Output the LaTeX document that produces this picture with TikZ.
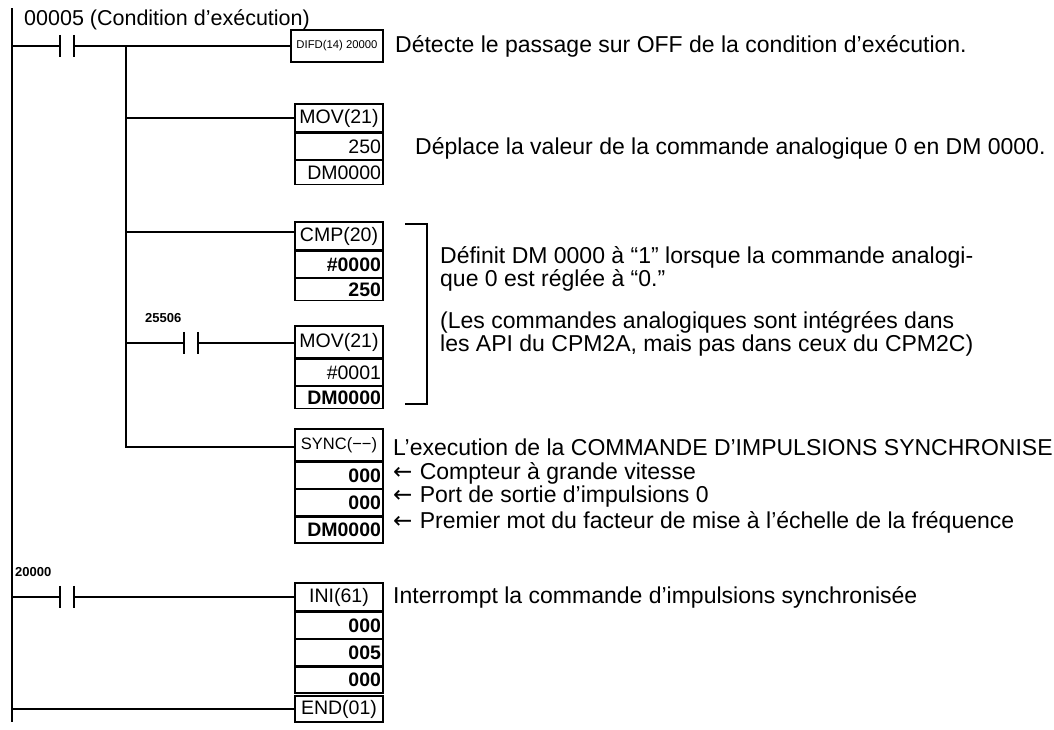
\documentclass[tikz,border=0pt]{standalone}
\usepackage{fontspec}
\setmainfont{Liberation Sans}
\usetikzlibrary{positioning}

\begin{document}
\begin{tikzpicture}[x=1pt, y=-1pt,
        instr/.style={draw, line width=1.3pt, minimum width=88pt, minimum height=28pt, inner sep=0pt, font=\fontsize{19.5}{21}\selectfont},
        oprnd/.style={instr, minimum height=26pt, text width=84pt, align=right},
        contact/.style={minimum width=14pt, minimum height=22pt, inner sep=0pt},
        note/.style={anchor=west, inner sep=0pt, font=\fontsize{23}{23.5}\selectfont},
        tag/.style={anchor=west, inner sep=0pt, font=\bfseries\fontsize{13}{14}\selectfont},
        wire/.style={line width=1.1pt}
    ]
        \useasboundingbox (0,0) rectangle (1054,729);

        % Rail
        \coordinate (railtop) at (12,8);
        \coordinate (railbot) at (12,722);
        \draw[wire] (railtop) -- (railbot);

        % Rung 1: 00005
        \node[note, font=\fontsize{21.5}{22}\selectfont] (lbl1) at (24,20) {00005 (Condition d’exécution)};
        \node[contact] (c00005) at (67,46) {};
        \node[instr, minimum height=32pt, minimum width=92pt, font=\fontsize{11.3}{14}\selectfont] (difd) at (337,46) {DIFD(14) 20000};
        \coordinate (r1) at (12,46);
        \coordinate (br) at (126,46);
        \draw[wire] (r1) -- (c00005.west) (c00005.east) -- (difd.west);
        \node[note] at (395,46) {Détecte le passage sur OFF de la condition d’exécution.};

        % MOV 250
        \node[instr] (mov1) at (339,118) {MOV(21)};
        \node[oprnd, below=0pt of mov1] (mov1a) {250\hspace{8pt}};
        \node[oprnd, below=0pt of mov1a, minimum height=24pt] (mov1b) {DM0000};
        \coordinate (br1) at (126,118);
        \draw[wire] (br1) -- (mov1.west);
        \node[note] at (415,148) {Déplace la valeur de la commande analogique 0 en DM 0000.};

        % CMP
        \node[instr] (cmp) at (339,236) {CMP(20)};
        \node[oprnd, below=0pt of cmp] (cmpa) {\textbf{\#0000}\hspace{3pt}};
        \node[oprnd, below=0pt of cmpa, minimum height=22pt] (cmpb) {\textbf{250}\hspace{3pt}};
        \coordinate (br2) at (126,232);
        \draw[wire] (br2) -- (cmp.west |- br2);

        % MOV #0001
        \node[instr, minimum height=32pt] (mov2) at (339,342) {MOV(21)};
        \node[oprnd, below=0pt of mov2] (mov2a) {\#0001\hspace{12pt}};
        \node[oprnd, below=0pt of mov2a, minimum height=22pt] (mov2b) {\textbf{DM0000}};
        \node[tag] (lbl25506) at (145,318) {25506};
        \node[contact] (c25506) at (191,343) {};
        \coordinate (br3) at (126,343);
        \draw[wire] (br3) -- (c25506.west) (c25506.east) -- (mov2.west |- br3);

        % Bracket
        \coordinate (bk1) at (405,224);
        \coordinate (bk2) at (427,224);
        \coordinate (bk3) at (427,404);
        \coordinate (bk4) at (405,404);
        \draw[wire] (bk1) -- (bk2) -- (bk3) -- (bk4);
        \node[note, align=left] at (440,269) {Définit DM 0000 à “1” lorsque la commande analogi-\\que 0 est réglée à “0.”};
        \node[note, align=left] at (440,334) {(Les commandes analogiques sont intégrées dans\\les API du CPM2A, mais pas dans ceux du CPM2C)};

        % SYNC
        \node[instr, minimum height=32pt, font=\fontsize{16.5}{18}\selectfont] (sync) at (339,445) {SYNC(−−)};
        \node[oprnd, below=0pt of sync] (synca) {\textbf{000}};
        \node[oprnd, below=0pt of synca] (syncb) {\textbf{000}};
        \node[oprnd, below=0pt of syncb] (syncc) {\textbf{DM0000}};
        \coordinate (br4) at (126,447);
        \draw[wire] (br) -- (br4) -- (sync.west |- br4);
        \node[note] at (393,447) {L’execution de la COMMANDE D’IMPULSIONS SYNCHRONISEE};
        \node[note] at (393,473) {\fontspec{DejaVu Sans}←\ \fontspec{Liberation Sans}Compteur à grande vitesse};
        \node[note] at (393,497) {\fontspec{DejaVu Sans}←\ \fontspec{Liberation Sans}Port de sortie d’impulsions 0};
        \node[note] at (393,522) {\fontspec{DejaVu Sans}←\ \fontspec{Liberation Sans}Premier mot du facteur de mise à l’échelle de la fréquence};

        % Rung 2: 20000
        \node[tag] (lbl20000) at (15,572) {20000};
        \node[contact] (c20000) at (67,597) {};
        \node[instr] (ini) at (339,597) {INI(61)};
        \node[oprnd, below=0pt of ini] (inia) {\textbf{000}};
        \node[oprnd, below=0pt of inia] (inib) {\textbf{005}};
        \node[oprnd, below=0pt of inib] (inic) {\textbf{000}};
        \coordinate (r2) at (12,597);
        \draw[wire] (r2) -- (c20000.west) (c20000.east) -- (ini.west);
        \node[note] at (393,597) {Interrompt la commande d’impulsions synchronisée};

        % END
        \node[instr, minimum height=26pt] (endi) at (339,709) {END(01)};
        \coordinate (r3) at (12,709);
        \draw[wire] (r3) -- (endi.west);

        % Contact bars
        \foreach \c in {c00005, c25506, c20000}
            \draw[line width=1.6pt] (\c.north west) -- (\c.south west) (\c.north east) -- (\c.south east);

    \end{tikzpicture}
\end{document}
